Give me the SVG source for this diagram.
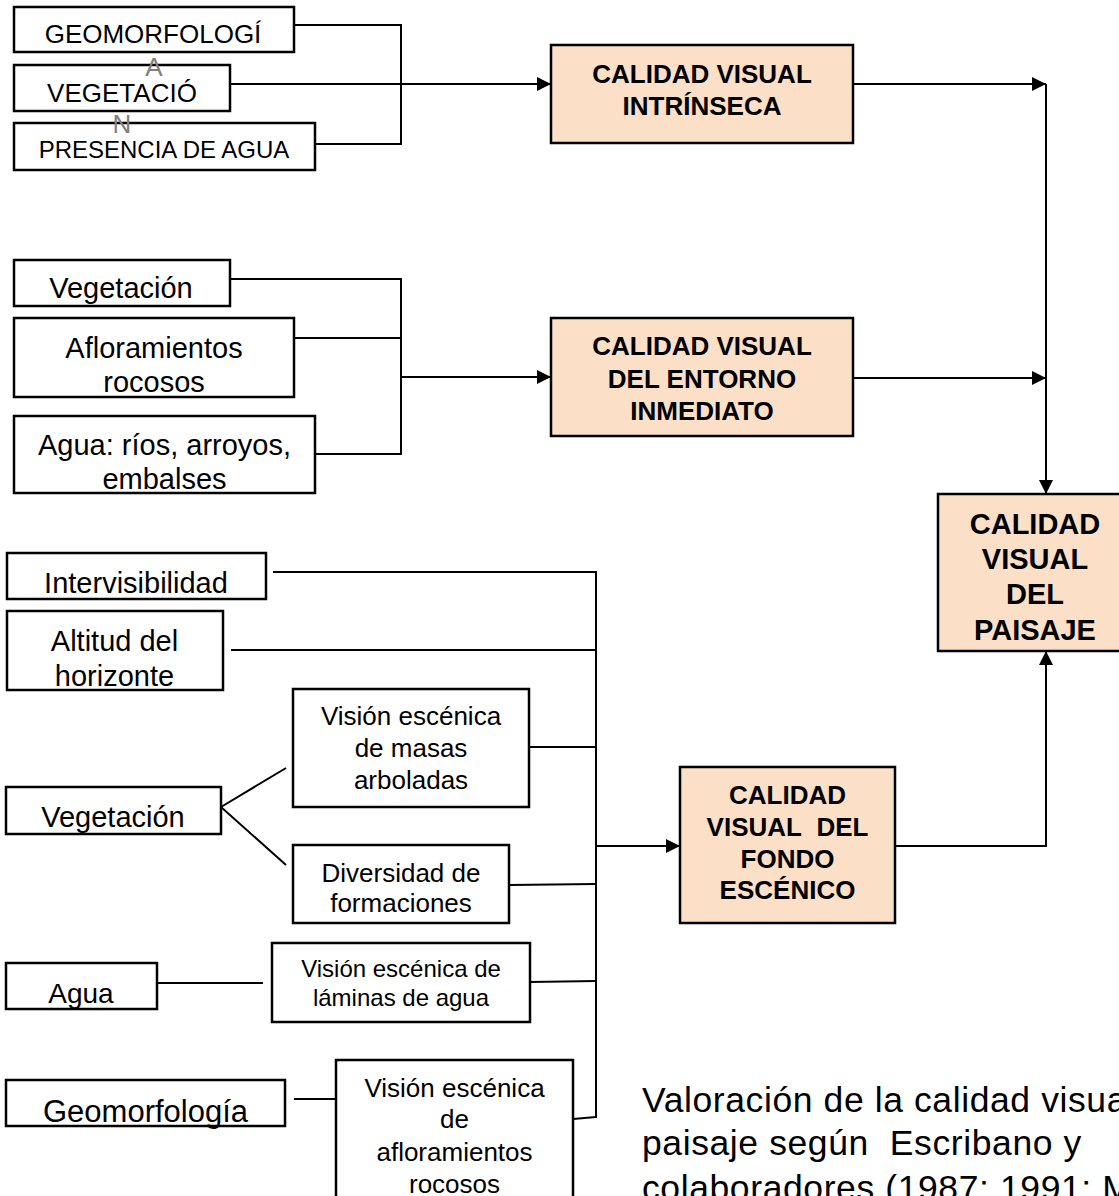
<svg xmlns="http://www.w3.org/2000/svg" width="1119" height="1196" viewBox="0 0 1119 1196">
<style>
text{font-family:"Liberation Sans",Arial,sans-serif;fill:#000;text-anchor:middle}
.box{fill:#fff;stroke:#000;stroke-width:2.5}
.hl{fill:#FBDFC7;stroke:#000;stroke-width:2.5}
.b{font-weight:bold}
.c{fill:none;stroke:#000;stroke-width:2}
.gray{fill:#808080}
.cap{text-anchor:start;font-size:35.5px;letter-spacing:0.6px}
</style>
<defs>
<marker id="ar" markerUnits="userSpaceOnUse" markerWidth="14" markerHeight="14" refX="14" refY="7" orient="auto">
<path d="M0,0 L14,7 L0,14 z" fill="#000"/>
</marker>
</defs>
<rect width="1119" height="1196" fill="#fff"/>

<g id="connectors">
<polyline class="c" points="294,25 401,25 401,144 315,144"/>
<line class="c" x1="230" y1="84" x2="551" y2="84" marker-end="url(#ar)"/>
<line class="c" x1="853" y1="84" x2="1046" y2="84" marker-end="url(#ar)"/>
<line class="c" x1="1046" y1="84" x2="1046" y2="494" marker-end="url(#ar)"/>
<polyline class="c" points="230,279 401,279 401,454 315,454"/>
<line class="c" x1="294" y1="338" x2="401" y2="338"/>
<line class="c" x1="401" y1="377" x2="551" y2="377" marker-end="url(#ar)"/>
<line class="c" x1="853" y1="378" x2="1046" y2="378" marker-end="url(#ar)"/>
<line class="c" x1="273" y1="572" x2="596" y2="572"/>
<line class="c" x1="231" y1="650" x2="596" y2="650"/>
<line class="c" x1="529" y1="747" x2="596" y2="747"/>
<line class="c" x1="221" y1="807" x2="286" y2="768"/>
<line class="c" x1="221" y1="807" x2="286" y2="865"/>
<line class="c" x1="509" y1="885" x2="596" y2="884"/>
<line class="c" x1="157" y1="983" x2="263" y2="983"/>
<line class="c" x1="530" y1="982" x2="596" y2="981"/>
<line class="c" x1="294" y1="1099" x2="336" y2="1099"/>
<line class="c" x1="573" y1="1119" x2="596" y2="1117"/>
<line class="c" x1="596" y1="571" x2="596" y2="1118"/>
<line class="c" x1="596" y1="846" x2="680" y2="846" marker-end="url(#ar)"/>
<polyline class="c" points="895,846 1046,846 1046,651" marker-end="url(#ar)"/>
</g>

<g id="n-geomorfologia">
<rect class="box" x="14" y="7" width="280" height="45"/>
<text x="153" y="43" font-size="26">GEOMORFOLOGÍ</text>
</g>
<g id="n-vegetacion-top">
<rect class="box" x="14" y="65" width="216" height="46"/>
<text x="122" y="102" font-size="26">VEGETACIÓ</text>
</g>
<g id="n-presencia">
<rect class="box" x="14" y="123" width="301" height="47"/>
<text x="164" y="158" font-size="24">PRESENCIA DE AGUA</text>
</g>
<g id="wrap-letters">
<text class="gray" x="154" y="76" font-size="26">A</text>
<text class="gray" x="122" y="133" font-size="26">N</text>
</g>

<g id="n-intrinseca">
<rect class="hl" x="551" y="45" width="302" height="98"/>
<text class="b" x="702" y="83" font-size="26">CALIDAD VISUAL</text>
<text class="b" x="702" y="115" font-size="26">INTRÍNSECA</text>
</g>

<g id="n-vegetacion-mid">
<rect class="box" x="14" y="260" width="216" height="46"/>
<text x="121" y="298" font-size="29">Vegetación</text>
</g>
<g id="n-afloramientos">
<rect class="box" x="14" y="318" width="280" height="79"/>
<text x="154" y="358" font-size="29">Afloramientos</text>
<text x="154" y="392" font-size="29">rocosos</text>
</g>
<g id="n-agua-rios">
<rect class="box" x="14" y="416" width="301" height="77"/>
<text x="164.5" y="455" font-size="29">Agua: ríos, arroyos,</text>
<text x="164.5" y="489" font-size="29">embalses</text>
</g>

<g id="n-entorno">
<rect class="hl" x="551" y="318" width="302" height="118"/>
<text class="b" x="702" y="355" font-size="26">CALIDAD VISUAL</text>
<text class="b" x="702" y="388" font-size="26">DEL ENTORNO</text>
<text class="b" x="702" y="420" font-size="26">INMEDIATO</text>
</g>

<g id="n-paisaje">
<rect class="hl" x="938" y="494" width="200" height="157"/>
<text class="b" x="1035" y="534" font-size="29">CALIDAD</text>
<text class="b" x="1035" y="569" font-size="29">VISUAL</text>
<text class="b" x="1035" y="604" font-size="29">DEL</text>
<text class="b" x="1035" y="640" font-size="29">PAISAJE</text>
</g>

<g id="n-intervisibilidad">
<rect class="box" x="7" y="553" width="259" height="46"/>
<text x="136" y="593" font-size="29">Intervisibilidad</text>
</g>
<g id="n-altitud">
<rect class="box" x="7" y="611" width="216" height="79"/>
<text x="114.5" y="651" font-size="29">Altitud del</text>
<text x="114.5" y="686" font-size="29">horizonte</text>
</g>
<g id="n-masas">
<rect class="box" x="293" y="689" width="236" height="118"/>
<text x="411" y="725" font-size="26">Visión escénica</text>
<text x="411" y="757" font-size="26">de masas</text>
<text x="411" y="789" font-size="26">arboladas</text>
</g>
<g id="n-vegetacion-bottom">
<rect class="box" x="6" y="787" width="215" height="47"/>
<text x="113" y="827" font-size="29">Vegetación</text>
</g>
<g id="n-diversidad">
<rect class="box" x="293" y="845" width="216" height="78"/>
<text x="401" y="882" font-size="26">Diversidad de</text>
<text x="401" y="912" font-size="26">formaciones</text>
</g>
<g id="n-agua">
<rect class="box" x="6" y="963" width="151" height="46"/>
<text x="81" y="1003" font-size="28">Agua</text>
</g>
<g id="n-laminas">
<rect class="box" x="272" y="943" width="258" height="79"/>
<text x="401" y="977" font-size="24">Visión escénica de</text>
<text x="401" y="1006" font-size="24">láminas de agua</text>
</g>
<g id="n-geomorfologia-bottom">
<rect class="box" x="6" y="1080" width="279" height="46"/>
<text x="145.5" y="1122" font-size="31">Geomorfología</text>
</g>
<g id="n-afloramientos-bottom">
<rect class="box" x="336" y="1060" width="237" height="140"/>
<text x="454.5" y="1097" font-size="26">Visión escénica</text>
<text x="454.5" y="1128" font-size="26">de</text>
<text x="454.5" y="1161" font-size="26">afloramientos</text>
<text x="454.5" y="1193" font-size="26">rocosos</text>
</g>

<g id="n-fondo">
<rect class="hl" x="680" y="767" width="215" height="156"/>
<text class="b" x="787.5" y="804" font-size="26">CALIDAD</text>
<text class="b" x="787.5" y="836" font-size="26">VISUAL&#160; DEL</text>
<text class="b" x="787.5" y="868" font-size="26">FONDO</text>
<text class="b" x="787.5" y="899" font-size="26">ESCÉNICO</text>
</g>

<g id="caption">
<text class="cap" x="642" y="1112">Valoración de la calidad visua</text>
<text class="cap" x="642" y="1155">paisaje según&#160; Escribano y</text>
<text class="cap" x="642" y="1200">colaboradores (1987; 1991; M</text>
</g>
</svg>
